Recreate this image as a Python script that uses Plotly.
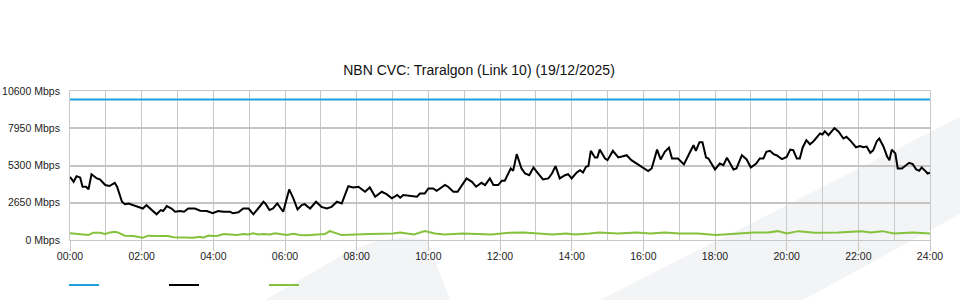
import plotly.graph_objects as go

# ---- data ----
title_text = "NBN CVC: Traralgon (Link 10) (19/12/2025)"

capacity_minutes = [0, 1440]
capacity_mbps = [10000, 10000]

traffic_minutes = [
    0, 6, 11, 17, 21, 27, 31, 36, 45, 50, 59, 66, 75, 79, 87, 92, 98, 106, 114, 122,
    128, 137, 145, 152, 156, 162, 170, 176, 184, 191, 198, 209, 218, 229, 239, 248, 257, 268, 273, 282,
    290, 299, 307, 315, 324, 327, 334, 340, 347, 357, 367, 374, 381, 388, 393, 402, 412, 421, 430, 438,
    447, 455, 466, 474, 483, 494, 502, 511, 522, 530, 539, 548, 553, 558, 569, 581, 586, 594, 600, 608,
    614, 621, 628, 633, 642, 649, 656, 664, 673, 680, 689, 695, 703, 709, 717, 723, 728, 734, 738, 742,
    748, 756, 762, 769, 776, 784, 792, 801, 807, 813, 820, 829, 834, 840, 848, 854, 859, 864, 868, 872,
    879, 883, 887, 896, 900, 909, 918, 926, 932, 940, 949, 960, 968, 974, 983, 989, 996, 1003, 1008, 1018,
    1028, 1037, 1044, 1048, 1054, 1059, 1065, 1069, 1080, 1088, 1094, 1100, 1111, 1116, 1125, 1133, 1140, 1149, 1155, 1161,
    1166, 1172, 1178, 1183, 1192, 1200, 1206, 1211, 1217, 1222, 1227, 1233, 1239, 1245, 1251, 1256, 1260, 1264, 1270, 1280,
    1287, 1295, 1300, 1306, 1316, 1323, 1328, 1334, 1340, 1345, 1351, 1355, 1362, 1368, 1372, 1376, 1382, 1386, 1393, 1399,
    1405, 1411, 1417, 1422, 1426, 1432, 1436, 1440,
]
traffic_mbps = [
    4490, 4140, 4540, 4450, 3780, 3780, 3600, 4680, 4380, 4310, 3910, 3840, 4070, 3780, 2720, 2550, 2600, 2480, 2410, 2240,
    2480, 2130, 1830, 2130, 2060, 2410, 2240, 2010, 2060, 2010, 2240, 2240, 2080, 2060, 1900, 2060, 2010, 2010, 1900, 1970,
    2240, 2240, 1830, 2240, 2720, 2600, 2130, 2240, 2600, 2010, 3600, 2960, 2170, 2480, 2550, 2240, 2720, 2360, 2240, 2360,
    2720, 2600, 3830, 3740, 3790, 3430, 3740, 3080, 3430, 3260, 2960, 3200, 3010, 3200, 3130, 3080, 3310, 3310, 3670, 3670,
    3500, 3710, 3910, 3790, 3430, 3430, 3910, 4380, 4140, 3790, 4070, 3910, 4380, 3910, 3910, 4220, 4220, 4730, 5090, 4920,
    6110, 5090, 4730, 4610, 5160, 4730, 4310, 4380, 4730, 5260, 4380, 4610, 4680, 4380, 4780, 4970, 4800, 5210, 5260, 6340,
    5870, 5870, 6430, 5800, 5680, 6340, 5870, 5960, 6030, 5680, 5440, 5090, 4900, 5090, 6430, 5730, 6270, 6570, 5800, 5800,
    5380, 6150, 6740, 6340, 6960, 6960, 5870, 5800, 5020, 5440, 5330, 5850, 5020, 5090, 6030, 5730, 5160, 5440, 5800, 5800,
    6270, 6340, 6110, 6030, 5750, 5910, 6430, 6390, 5800, 5800, 6600, 7100, 6810, 7030, 7340, 7580, 7510, 7740, 7460, 7960,
    7700, 7220, 7340, 7100, 6600, 6690, 6600, 6650, 6200, 6390, 7030, 7220, 6650, 5960, 5680, 6430, 6150, 5090, 5090, 5260,
    5490, 5400, 5020, 4920, 5160, 4920, 4730, 4780,
]

upload_minutes = [
    0, 17, 31, 39, 50, 59, 67, 75, 80, 92, 106, 122, 131, 145, 156, 164, 173, 184, 196, 206,
    218, 223, 232, 240, 248, 257, 268, 279, 290, 298, 307, 315, 324, 335, 343, 352, 363, 374, 385, 396,
    407, 419, 427, 435, 455, 502, 541, 553, 576, 594, 611, 627, 658, 705, 736, 760, 784, 808, 831, 846,
    870, 886, 917, 948, 972, 996, 1020, 1051, 1082, 1114, 1145, 1169, 1185, 1200, 1220, 1247, 1270, 1286, 1325, 1341,
    1360, 1380, 1411, 1440,
]
upload_mbps = [
    475, 430, 360, 520, 520, 430, 540, 590, 540, 310, 280, 165, 310, 280, 280, 280, 190, 165, 165, 165,
    235, 165, 310, 280, 310, 430, 400, 360, 430, 400, 475, 400, 430, 400, 475, 400, 360, 450, 360, 330,
    360, 360, 430, 630, 350, 420, 470, 540, 390, 630, 470, 390, 470, 390, 520, 540, 470, 390, 470, 390,
    470, 540, 470, 540, 470, 540, 470, 470, 350, 470, 540, 540, 630, 470, 630, 520, 520, 540, 630, 540,
    630, 470, 540, 470,
]

x_tick_hours = [0, 2, 4, 6, 8, 10, 12, 14, 16, 18, 20, 22, 24]
x_tick_labels = ["00:00", "02:00", "04:00", "06:00", "08:00", "10:00", "12:00",
                 "14:00", "16:00", "18:00", "20:00", "22:00", "24:00"]
y_tick_values = [0, 2650, 5300, 7950, 10600]
y_tick_labels = ["0 Mbps", "2650 Mbps", "5300 Mbps", "7950 Mbps", "10600 Mbps"]

# ---- figure ----
def hours(mins):
    return [m / 60 for m in mins]

fig = go.Figure()
fig.add_trace(go.Scatter(x=hours(capacity_minutes), y=capacity_mbps, mode="lines", name="",
                         line=dict(color="#1ba1e2", width=2)))
fig.add_trace(go.Scatter(x=hours(traffic_minutes), y=traffic_mbps, mode="lines", name="",
                         line=dict(color="#000000", width=2)))
fig.add_trace(go.Scatter(x=hours(upload_minutes), y=upload_mbps, mode="lines", name="",
                         line=dict(color="#84c13c", width=2)))

watermark = "#f3f4f6"
tick_font = dict(family="Liberation Sans, Arial, sans-serif", size=10.5, color="#222")
fig.update_layout(
    width=960, height=300,
    margin=dict(l=70, r=30, t=91, b=60, pad=0, autoexpand=False),
    paper_bgcolor="white", plot_bgcolor="rgba(0,0,0,0)",
    font=dict(family="Liberation Sans, Arial, sans-serif", size=11, color="#222"),
    title=dict(text=title_text, x=0.499, xref="container", xanchor="center",
               y=0.767, yref="container", yanchor="middle",
               font=dict(size=14, color="#111")),
    showlegend=True,
    legend=dict(orientation="h", x=-0.007, xanchor="left", xref="paper",
                y=0.05, yanchor="middle", yref="container",
                entrywidth=55, entrywidthmode="pixels", itemwidth=30,
                bgcolor="rgba(0,0,0,0)", font=dict(size=11)),
    xaxis=dict(range=[0, 24], tickvals=x_tick_hours, ticktext=x_tick_labels,
               showgrid=True, gridcolor="#c8c8c8", gridwidth=1,
               ticks="outside", ticklen=10, tickcolor="#c8c8c8", tickwidth=1,
               ticklabelstandoff=-4,
               minor=dict(dtick=1, showgrid=True, gridcolor="#c8c8c8", gridwidth=1, ticks=""),
               showline=True, linecolor="#c8c8c8", linewidth=1, mirror=True,
               zeroline=False, automargin=False, tickfont=tick_font),
    yaxis=dict(range=[0, 10600], tickvals=y_tick_values, ticktext=y_tick_labels,
               showgrid=True, gridcolor="#c4c4c4", gridwidth=2,
               ticks="", ticklabelstandoff=7,
               showline=True, linecolor="#c8c8c8", linewidth=1, mirror=True,
               zeroline=False, automargin=False, tickfont=tick_font),
    shapes=[
        dict(type="path", xref="paper", yref="paper", layer="below", line=dict(width=0),
             fillcolor=watermark,
             path="M 0.2128,-0.45 L 0.3209,-0.0872 Q 0.37,0.05 0.415,0.0 L 0.4453,-0.45 Z"),
        dict(type="path", xref="paper", yref="paper", layer="below", line=dict(width=0),
             fillcolor=watermark,
             path="M 0.6163,-0.4027 L 1.0349,0.8255 L 1.0349,0.1745 L 0.8523,-0.4027 Z"),
    ],
)

fig.write_html("out.html")
